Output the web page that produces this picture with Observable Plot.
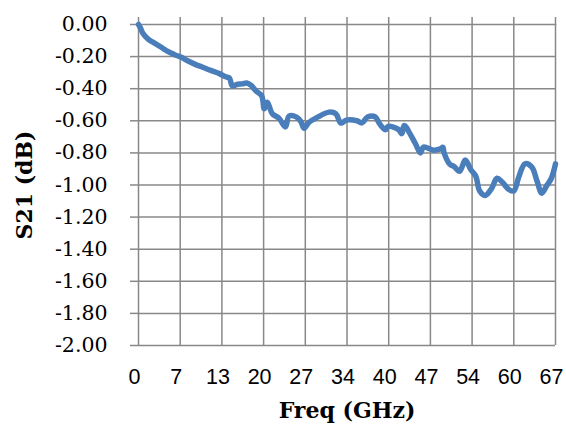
<!DOCTYPE html>
<html>
<head>
<meta charset="utf-8">
<script src="https://cdn.jsdelivr.net/npm/d3@7"></script>
<script src="https://cdn.jsdelivr.net/npm/@observablehq/plot@0.6"></script>
<style>
  html, body { margin: 0; padding: 0; background: #fff; }
</style>
</head>
<body>
<div id="chart"></div>
<script>
// Frequency (GHz)
const freq = [0, 0.3, 0.7, 1.5, 2.5, 3.6, 4.7, 5.8, 6.8, 7.9, 9.2, 10.3, 11.6, 13.0, 14.0, 14.6, 15.1, 15.9, 16.7, 17.4, 18.1, 18.9, 19.8, 20.2, 20.7, 21.5, 22.6, 23.6, 24.2, 25.4, 26.1, 26.6, 27.4, 28.7, 30.6, 31.7, 32.5, 33.4, 35.1, 35.9, 36.8, 38.0, 38.8, 39.7, 40.1, 41.8, 42.3, 42.7, 43.7, 44.5, 45.3, 45.8, 47.4, 48.5, 48.9, 49.1, 50.0, 50.7, 51.6, 52.5, 53.4, 54.2, 54.8, 55.7, 56.7, 57.6, 58.4, 59.5, 60.3, 61.1, 62.1, 63.2, 64.0, 64.8, 65.6, 66.3, 67.0];
// S21 (dB)
const s21 = [0, -0.02, -0.055, -0.09, -0.115, -0.14, -0.168, -0.188, -0.203, -0.226, -0.25, -0.266, -0.286, -0.306, -0.326, -0.334, -0.383, -0.372, -0.37, -0.364, -0.38, -0.415, -0.445, -0.525, -0.484, -0.556, -0.585, -0.638, -0.57, -0.577, -0.605, -0.647, -0.609, -0.579, -0.546, -0.556, -0.614, -0.596, -0.6, -0.613, -0.577, -0.575, -0.622, -0.655, -0.634, -0.655, -0.68, -0.629, -0.686, -0.743, -0.8, -0.764, -0.783, -0.775, -0.765, -0.8, -0.87, -0.885, -0.915, -0.845, -0.905, -0.945, -1.036, -1.065, -1.024, -0.958, -0.98, -1.028, -1.037, -0.95, -0.868, -0.889, -0.972, -1.051, -1.003, -0.961, -0.868];

const xTicks = d3.range(0, 11).map(i => i * 67 / 10);
const xTickLabels = ["0", "7", "13", "20", "27", "34", "40", "47", "54", "60", "67"];
const yTicks = d3.range(0, 11).map(i => -i * 0.2);

const data = freq.map((f, i) => ({freq: f, s21: s21[i]}));

const grid = "#888888";

const chart = Plot.plot({
  width: 566,
  height: 428,
  marginTop: 24,
  marginRight: 11,
  marginBottom: 83,
  marginLeft: 138,
  style: {fontFamily: "'DejaVu Serif', serif", fontSize: "20px", color: "#000", background: "#fff"},
  x: {domain: [0, 67]},
  y: {domain: [-2, 0]},
  marks: [
    Plot.gridX(xTicks, {stroke: grid, strokeOpacity: 1, strokeWidth: 1.5}),
    Plot.gridY(yTicks, {stroke: grid, strokeOpacity: 1, strokeWidth: 1.5}),
    Plot.axisY(yTicks, {anchor: "left", tickSize: 8, tickPadding: 23, stroke: grid, strokeWidth: 1.5,
      tickFormat: d => d.toFixed(2), label: null, fontFamily: "'DejaVu Serif', serif", fontSize: 20.5}),
    Plot.axisX(xTicks, {anchor: "top", tickSize: 8, stroke: grid, strokeWidth: 1.5,
      tickFormat: () => "", label: null}),
    Plot.axisX(xTicks, {anchor: "bottom", tickSize: 0, tickPadding: 23, dx: -4,
      tickFormat: d => xTickLabels[Math.round(d * 10 / 67)], label: null,
      fontFamily: "'Liberation Sans', Arial, sans-serif", fontSize: 21.5}),
    Plot.line(data, {x: "freq", y: "s21", stroke: "#4a7ebb", strokeWidth: 5.5,
      curve: "catmull-rom", strokeLinejoin: "round", strokeLinecap: "round"}),
    Plot.text(["S21 (dB)"], {frameAnchor: "left", dx: -114, rotate: -90, textAnchor: "middle",
      fontFamily: "'DejaVu Serif', serif", fontWeight: "bold", fontSize: 22, fill: "#000"}),
    Plot.text(["Freq (GHz)"], {frameAnchor: "bottom", dy: 72, textAnchor: "middle",
      fontFamily: "'DejaVu Serif', serif", fontWeight: "bold", fontSize: 22, fill: "#000"})
  ]
});

document.getElementById("chart").appendChild(chart);
</script>
</body>
</html>
